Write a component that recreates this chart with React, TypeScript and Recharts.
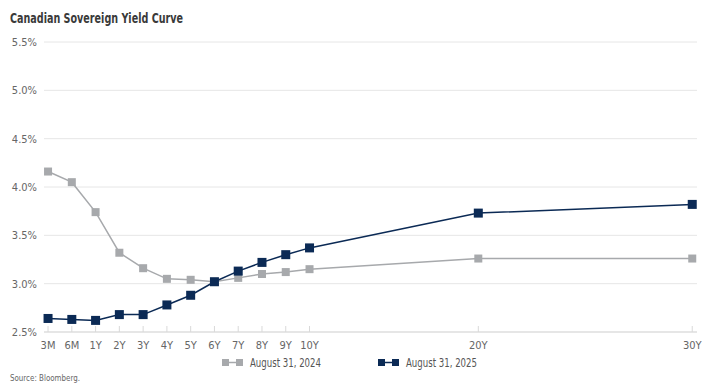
import React from 'react';
import { LineChart, Line, XAxis, YAxis, CartesianGrid, Legend } from 'recharts';

const tenors = ['3M', '6M', '1Y', '2Y', '3Y', '4Y', '5Y', '6Y', '7Y', '8Y', '9Y', '10Y', '20Y', '30Y'];
// position of each tenor on the (uneven) source axis, in slot units
const tenorPos = [0, 1, 2, 3, 4, 5, 6, 7, 8, 9, 10, 11, 18.1, 27.1];
const aug2024 = [4.16, 4.05, 3.74, 3.32, 3.16, 3.05, 3.04, 3.02, 3.06, 3.1, 3.12, 3.15, 3.26, 3.26];
const aug2025 = [2.64, 2.63, 2.62, 2.68, 2.68, 2.78, 2.88, 3.02, 3.13, 3.22, 3.3, 3.37, 3.73, 3.82];
const yTicks = [2.5, 3.0, 3.5, 4.0, 4.5, 5.0, 5.5];

const GREY = '#a7a9ac';
const NAVY = '#0b2a55';
const FONT = "'DejaVu Sans Condensed', 'Roboto', sans-serif";

const data = tenors.map((t, i) => ({
  x: tenorPos[i],
  label: t,
  a2024: aug2024[i],
  a2025: aug2025[i],
}));

const labelByPos: Record<string, string> = {};
tenorPos.forEach((p, i) => (labelByPos[String(p)] = tenors[i]));

const SquareDot = (color: string, size: number) => (props: any) => {
  const { cx, cy, index } = props;
  if (cx == null || cy == null) return null;
  return <rect key={index} x={cx - size / 2} y={cy - size / 2} width={size} height={size} fill={color} />;
};

const legendItems = [
  { name: 'August 31, 2024', color: GREY, x: 222 },
  { name: 'August 31, 2025', color: NAVY, x: 378 },
];

// squeezed text so the narrow source font widths are kept
const FitText = ({ x, y, w, size, weight, fill, children }: any) => (
  <text
    x={x}
    y={y}
    textLength={w}
    lengthAdjust="spacingAndGlyphs"
    fontSize={size}
    fontWeight={weight}
    fill={fill}
    fontFamily={FONT}
  >
    {children}
  </text>
);

const LegendContent = () => (
  <svg width={712} height={16} style={{ display: 'block' }}>
    {legendItems.map((it) => (
      <g key={it.name}>
        <rect x={it.x} y={4} width={7} height={7} fill={it.color} />
        <line x1={it.x + 7} y1={7.5} x2={it.x + 14} y2={7.5} stroke={it.color} strokeWidth={1.5} />
        <rect x={it.x + 14} y={4} width={7} height={7} fill={it.color} />
        <FitText x={it.x + 28} y={11.5} w={71} size={11.5} fill="#555">
          {it.name}
        </FitText>
      </g>
    ))}
  </svg>
);

export default function App() {
  return (
    <div style={{ position: 'relative', width: 712, height: 385, background: '#fff', fontFamily: FONT }}>
      <style>{'body{margin:0}'}</style>
      <svg width={712} height={30} style={{ position: 'absolute', left: 0, top: 0 }}>
        <FitText x={10} y={23} w={173} size={14.5} weight="bold" fill="#3a3a3a">
          Canadian Sovereign Yield Curve
        </FitText>
      </svg>
      <LineChart width={712} height={385} data={data} margin={{ top: 42, right: 15, bottom: 28, left: 0 }}>
        <CartesianGrid horizontal vertical={false} stroke="#e6e6e6" />
        <XAxis
          dataKey="x"
          type="number"
          domain={[-0.17, 27.3]}
          ticks={tenorPos}
          interval={0}
          tickFormatter={(v) => labelByPos[String(v)] ?? ''}
          tick={{ fill: '#666', fontSize: 11, fontFamily: FONT }}
          tickSize={-6}
          tickMargin={15}
          axisLine={{ stroke: '#d9d9d9' }}
          tickLine={{ stroke: '#d9d9d9' }}
          height={25}
        />
        <YAxis
          domain={[2.5, 5.5]}
          ticks={yTicks}
          tickFormatter={(v) => `${Number(v).toFixed(1)}%`}
          tick={{ fill: '#666', fontSize: 11, fontFamily: FONT }}
          axisLine={false}
          tickLine={false}
          tickSize={0}
          tickMargin={7}
          width={44}
        />
        <Legend
          verticalAlign="middle"
          align="center"
          layout="horizontal"
          wrapperStyle={{ top: 355, left: 0, width: 712 }}
          content={<LegendContent />}
        />
        <Line
          dataKey="a2024"
          name="August 31, 2024"
          stroke={GREY}
          strokeWidth={1.5}
          dot={SquareDot(GREY, 8)}
          isAnimationActive={false}
        />
        <Line
          dataKey="a2025"
          name="August 31, 2025"
          stroke={NAVY}
          strokeWidth={1.5}
          dot={SquareDot(NAVY, 9)}
          isAnimationActive={false}
        />
      </LineChart>
      <svg width={712} height={14} style={{ position: 'absolute', left: 0, top: 371 }}>
        <FitText x={10} y={9.5} w={70} size={9} fill="#666">
          Source: Bloomberg.
        </FitText>
      </svg>
    </div>
  );
}
